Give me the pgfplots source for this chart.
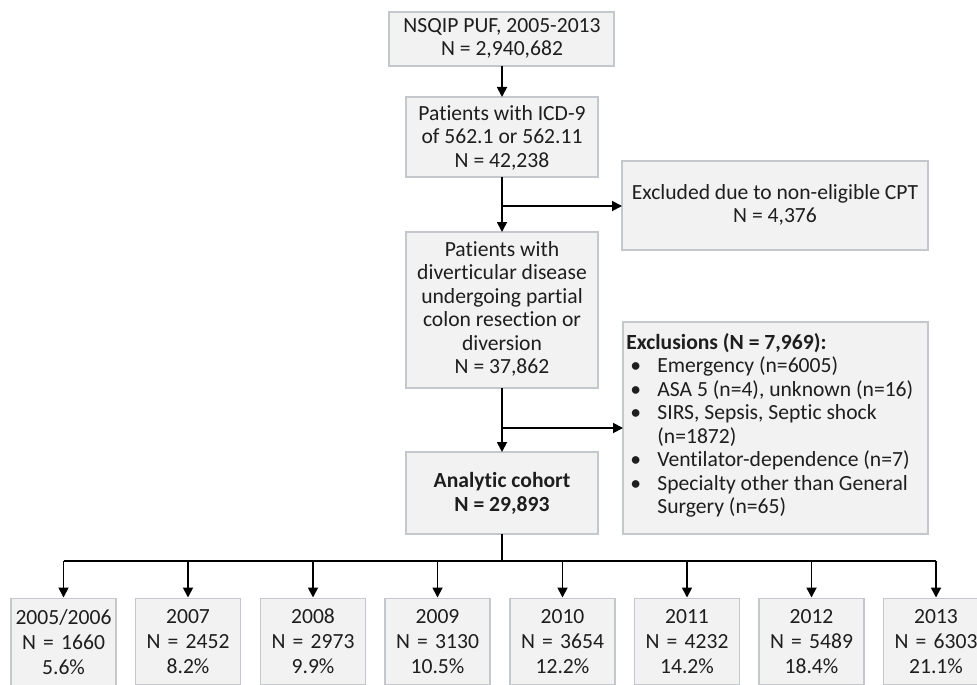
\documentclass[border=0pt]{standalone}
\usepackage{fontspec}
\setmainfont{Carlito}[Ligatures={NoCommon}]
\usepackage{pgfplots}
\usepackage{pgfplotstable}
\pgfplotsset{compat=1.18}
\usetikzlibrary{arrows.meta}
\definecolor{boxfill}{RGB}{242,242,242}
\definecolor{boxline}{RGB}{196,200,204}
\definecolor{txt}{RGB}{30,30,30}
\pgfplotstableread{
x n pct label
63.5 1660 5.6 2005/2006
188 2452 8.2 2007
313 2973 9.9 2008
437.5 3130 10.5 2009
562.5 3654 12.2 2010
687 4232 14.2 2011
811.5 5489 18.4 2012
936 6303 21.1 2013
}\years
\begin{document}
\begin{tikzpicture}[
  every node/.style={font=\fontsize{10.8pt}{11.75pt}\selectfont, text=txt},
  box/.style={fill=boxfill, draw=boxline, line width=0.6pt},
  arr/.style={line width=0.9pt, -{Triangle[length=5pt,width=5pt]}},
  ln/.style={line width=0.9pt}]
\useasboundingbox (0,0) rectangle (488.5pt,342pt);
\begin{axis}[
  scale only axis, width=488.5pt, height=342pt,
  xmin=0, xmax=977, ymin=0, ymax=684, y dir=reverse,
  axis lines=none, clip=true]
% boxes
\draw[box] (389,12) rectangle (614,66);
\node[align=center] at (502,38.5) {NSQIP PUF, 2005-2013\\N = 2,940,682};
\draw[box] (406,97) rectangle (598,177);
\node[align=center] at (502,137.5) {Patients with ICD-9\\of 562.1 or 562.11\\N = 42,238};
\draw[box] (622,161) rectangle (928,250);
\node[align=center] at (775,205) {Excluded due to non-eligible CPT\\N = 4,376};
\draw[box] (406,232) rectangle (598,388);
\node[align=center] at (502,309) {Patients with\\diverticular disease\\undergoing partial\\colon resection or\\diversion\\N = 37,862};
\draw[box] (623,322) rectangle (928,534);
\node[align=left, anchor=west, inner sep=0pt] at (626,425.5) {\textbf{Exclusions (N = 7,969):}\\
\hspace*{2pt}\makebox[13.5pt][l]{\textbullet}Emergency (n=6005)\\
\hspace*{2pt}\makebox[13.5pt][l]{\textbullet}ASA 5 (n=4), unknown (n=16)\\
\hspace*{2pt}\makebox[13.5pt][l]{\textbullet}SIRS, Sepsis, Septic shock\\
\hspace*{15.5pt}(n=1872)\\
\hspace*{2pt}\makebox[13.5pt][l]{\textbullet}Ventilator-dependence (n=7)\\
\hspace*{2pt}\makebox[13.5pt][l]{\textbullet}Specialty other than General\\
\hspace*{15.5pt}Surgery (n=65)};
\draw[box] (406,452) rectangle (598,534);
\node[align=center] at (502,493.5) {\textbf{Analytic cohort}\\\textbf{N = 29,893}};
% connectors
\draw[arr] (502,66) -- (502,97);
\draw[arr] (502,177) -- (502,232);
\draw[arr] (502,206) -- (622,206);
\draw[arr] (502,388) -- (502,452);
\draw[arr] (502,428) -- (623,428);
\draw[ln] (502,534) -- (502,561);
\draw[ln] (63.5,561) -- (936,561);
\pgfplotsinvokeforeach{63.5,188,313,437.5,562.5,687,811.5,936}{\draw[arr] (#1,561) -- (#1,597.5);}
% year boxes from the table
\addplot[only marks, mark=none,
  point meta=explicit symbolic,
  visualization depends on={\thisrow{n}\as\nval},
  visualization depends on={\thisrow{pct}\as\pval},
  nodes near coords={\pgfplotspointmeta\\N = \pgfmathprintnumber[fixed, precision=0, 1000 sep={}, assume math mode=true]{\nval}\\\pgfmathprintnumber[fixed, precision=1, fixed zerofill, assume math mode=true]{\pval}\%},
  nodes near coords align={anchor=north},
  every node near coord/.style={anchor=north, align=center, fill=boxfill, draw=boxline, line width=0.6pt,
    minimum width=52.5pt, text width=50pt, inner ysep=5.5pt, inner xsep=1pt,
    font=\fontsize{10.8pt}{12.5pt}\selectfont, text=txt}
] table[x=x, y expr=597.5, meta=label] {\years};
\end{axis}
\end{tikzpicture}
\end{document}
